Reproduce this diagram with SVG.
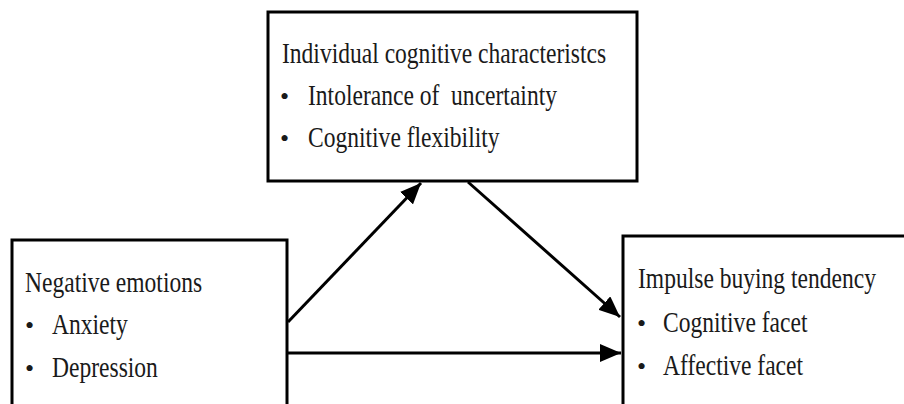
<svg xmlns="http://www.w3.org/2000/svg" width="904" height="404" viewBox="0 0 904 404">
  <defs>
    <marker id="arrow" markerWidth="7" markerHeight="6" refX="7" refY="3" orient="auto" markerUnits="strokeWidth">
      <path d="M0,0 L7,3 L0,6 Z" fill="#000"/>
    </marker>
    <style>
      .box { fill: #fff; stroke: #000; stroke-width: 3; }
      .t { font-family: "Liberation Serif", "Times New Roman", serif; font-size: 30px; fill: #1a1a1a; white-space: pre; }
      .b { font-family: "Liberation Serif", "Times New Roman", serif; font-size: 26px; fill: #1a1a1a; }
      .edge { stroke: #000; stroke-width: 3; fill: none; marker-end: url(#arrow); }
    </style>
  </defs>
  <rect width="904" height="404" fill="#fff"/>

  <!-- labels use a horizontally condensed serif: scale(0.785, 1) -->
  <g id="node-cognitive">
    <rect class="box" x="268" y="12" width="369" height="169"/>
    <text class="t" transform="translate(282 63) scale(0.785 1)">Individual cognitive characteristcs</text>
    <text class="b" x="280" y="105">•</text>
    <text class="t" transform="translate(308 105) scale(0.785 1)">Intolerance of  uncertainty</text>
    <text class="b" x="280" y="147">•</text>
    <text class="t" transform="translate(308 147) scale(0.785 1)">Cognitive flexibility</text>
  </g>

  <g id="node-negative">
    <rect class="box" x="12" y="240" width="275" height="166"/>
    <text class="t" transform="translate(25 292) scale(0.785 1)">Negative emotions</text>
    <text class="b" x="25" y="334">•</text>
    <text class="t" transform="translate(52 334) scale(0.785 1)">Anxiety</text>
    <text class="b" x="25" y="377">•</text>
    <text class="t" transform="translate(52 377) scale(0.785 1)">Depression</text>
  </g>

  <g id="node-impulse">
    <rect class="box" x="623" y="236" width="283" height="170"/>
    <text class="t" transform="translate(638 288) scale(0.785 1)">Impulse buying tendency</text>
    <text class="b" x="637" y="332">•</text>
    <text class="t" transform="translate(663 332) scale(0.785 1)">Cognitive facet</text>
    <text class="b" x="637" y="375">•</text>
    <text class="t" transform="translate(663 375) scale(0.785 1)">Affective facet</text>
  </g>

  <g id="connectors">
    <line class="edge" x1="288" y1="322" x2="421" y2="183"/>
    <line class="edge" x1="468" y1="182" x2="620" y2="317"/>
    <line class="edge" x1="288" y1="353" x2="621" y2="353"/>
  </g>
</svg>
